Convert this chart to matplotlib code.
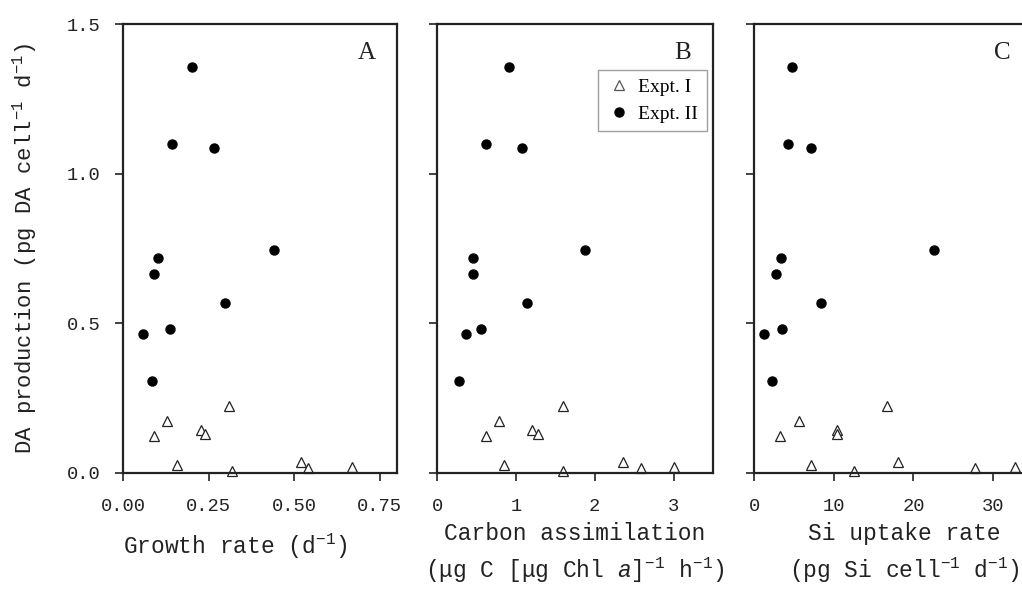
import matplotlib
matplotlib.use("Agg")
import matplotlib.pyplot as plt
from matplotlib.lines import Line2D

# DA production (pg DA cell-1 d-1), same samples in each panel
da_expt1 = [0.124, 0.175, 0.142, 0.131, 0.224, 0.028, 0.005, 0.037, 0.015, 0.019]
da_expt2 = [1.356, 1.100, 1.087, 0.720, 0.665, 0.745, 0.569, 0.465, 0.482, 0.308]

# A: growth rate (d-1)
growth_expt1 = [0.090, 0.128, 0.228, 0.240, 0.309, 0.159, 0.319, 0.519, 0.539, 0.670]
growth_expt2 = [0.201, 0.142, 0.266, 0.101, 0.091, 0.441, 0.299, 0.059, 0.136, 0.084]

# B: carbon assimilation
carbon_expt1 = [0.62, 0.78, 1.21, 1.28, 1.60, 0.85, 1.60, 2.36, 2.59, 3.00]
carbon_expt2 = [0.91, 0.62, 1.08, 0.46, 0.46, 1.88, 1.14, 0.37, 0.56, 0.28]

# C: Si uptake rate
si_expt1 = [3.2, 5.6, 10.4, 10.4, 16.7, 7.2, 12.5, 18.1, 27.7, 32.7]
si_expt2 = [4.8, 4.2, 7.1, 3.4, 2.8, 22.6, 8.4, 1.3, 3.5, 2.3]

mono = "Liberation Mono"
serif = "Liberation Serif"
plt.rcParams["font.family"] = [mono, "DejaVu Sans"]
plt.rcParams["mathtext.fontset"] = "custom"
plt.rcParams["mathtext.rm"] = mono
plt.rcParams["mathtext.it"] = mono + ":italic"

ink = "#222222"
fig = plt.figure(figsize=(10.22, 5.89), dpi=100)

panels = [
    dict(pos=[0.1204, 0.197, 0.268, 0.762], x1=growth_expt1, x2=growth_expt2,
         xlim=(0, 0.8), ticks=[0, 0.25, 0.5, 0.75], ticklabels=["0.00", "0.25", "0.50", "0.75"],
         xlabel="Growth rate (d$^{-1}$)", lx=0.41, ly=-0.13, letter="A"),
    dict(pos=[0.4276, 0.197, 0.270, 0.762], x1=carbon_expt1, x2=carbon_expt2,
         xlim=(0, 3.5), ticks=[0, 1, 2, 3], ticklabels=["0", "1", "2", "3"],
         xlabel="Carbon assimilation\n(μg C [μg Chl $\\it{a}$]$^{-1}$ h$^{-1}$)", lx=0.5, ly=-0.11, letter="B"),
    dict(pos=[0.7378, 0.197, 0.273, 0.762], x1=si_expt1, x2=si_expt2,
         xlim=(0, 35), ticks=[0, 10, 20, 30], ticklabels=["0", "10", "20", "30"],
         xlabel="Si uptake rate\n(pg Si cell$^{-1}$ d$^{-1}$)", lx=0.54, ly=-0.11, letter="C"),
]

axes = []
for i, p in enumerate(panels):
    ax = fig.add_axes(p["pos"])
    ax.plot(p["x1"], da_expt1, linestyle="none", marker="^", markersize=7,
            markerfacecolor="white", markeredgecolor=ink, markeredgewidth=0.9, clip_on=False)
    ax.plot(p["x2"], da_expt2, linestyle="none", marker="o", markersize=6.5,
            markerfacecolor="black", markeredgecolor="black", clip_on=False)
    ax.set_xlim(*p["xlim"])
    ax.set_ylim(0, 1.5)
    ax.set_xticks(p["ticks"])
    ax.set_xticklabels(p["ticklabels"])
    ax.set_yticks([0, 0.5, 1.0, 1.5])
    if i == 0:
        ax.set_yticklabels(["0.0", "0.5", "1.0", "1.5"])
        ax.set_ylabel("DA production (pg DA cell$^{-1}$ d$^{-1}$)", fontsize=16, color=ink, labelpad=20)
    else:
        ax.set_yticklabels([])
    ax.tick_params(direction="out", length=6, width=1.2, colors=ink, labelsize=13.5, pad=10)
    ax.tick_params(axis="x", pad=12)
    for s in ax.spines.values():
        s.set_linewidth(1.6)
        s.set_color(ink)
    ax.set_xlabel(p["xlabel"], fontsize=16.5, color=ink, linespacing=1.45)
    ax.xaxis.set_label_coords(p["lx"], p["ly"])
    ax.xaxis.label.set_va("top")
    ax.text(0.89, 0.935, p["letter"], transform=ax.transAxes, fontsize=18,
            family=serif, color=ink, ha="center", va="center")
    axes.append(ax)

handles = [
    Line2D([], [], linestyle="none", marker="^", markersize=6.5, markerfacecolor="white",
           markeredgecolor="#555555", markeredgewidth=0.9),
    Line2D([], [], linestyle="none", marker="o", markersize=6.5, markerfacecolor="black",
           markeredgecolor="black"),
]
leg = axes[1].legend(handles, ["Expt. I", "Expt. II"], loc="upper right",
                     bbox_to_anchor=(0.978, 0.898), borderaxespad=0, fancybox=False,
                     prop={"family": serif, "size": 14}, handletextpad=0.4,
                     handlelength=1.2, borderpad=0.45, labelspacing=0.45)
leg.get_frame().set_edgecolor("#888888")
leg.get_frame().set_linewidth(1.0)

fig.savefig("out.png", dpi=100)
